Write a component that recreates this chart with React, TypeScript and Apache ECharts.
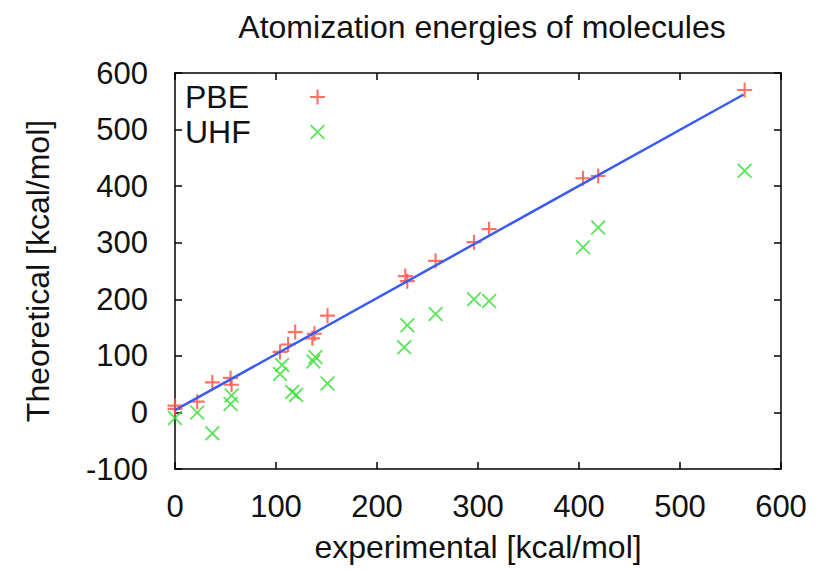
import React, { useEffect, useRef } from "react";
import * as echarts from "echarts";

const TITLE = "Atomization energies of molecules";
const X_NAME = "experimental [kcal/mol]";
const Y_NAME = "Theoretical [kcal/mol]";

// PBE (red +): [experimental, theoretical]
const pbeData: number[][] = [
  [0, 12], [0, 6], [22, 19], [37, 53], [55, 61], [56, 49],
  [104, 107], [112, 120], [119, 142], [136, 131], [138, 139], [151, 171],
  [228, 241], [230, 232], [258, 268], [296, 301], [311, 324],
  [404, 414], [419, 418], [564, 570],
];

// UHF (green x)
const uhfData: number[][] = [
  [0, -10], [22, 0], [37, -37], [55, 15], [56, 30],
  [104, 68], [106, 84], [116, 36], [120, 31], [137, 90], [139, 98], [151, 51],
  [227, 115], [230, 154], [258, 174], [296, 200], [311, 197],
  [404, 292], [419, 327], [564, 427],
];

// fitted line
const fitLine: number[][] = [[0, 4], [563, 562]];

const X_MIN = 0, X_MAX = 600, X_STEP = 100;
const Y_MIN = -100, Y_MAX = 600, Y_STEP = 100;

const PLUS = "path://M6,0H8V6H14V8H8V14H6V8H0V6H6Z";
const CROSS =
  "path://M0,1.2L1.2,0L7,5.8L12.8,0L14,1.2L8.2,7L14,12.8L12.8,14L7,8.2L1.2,14L0,12.8L5.8,7Z";

const RED = "#ff4f40";
const GREEN = "#33dd33";
const BLUE = "#3a5cf0";
const FONT = "Liberation Sans, Arial, Helvetica, sans-serif";

export default function App() {
  const ref = useRef<HTMLDivElement>(null);
  useEffect(() => {
    if (!ref.current) return;
    const chart = echarts.init(ref.current, undefined, { renderer: "svg" });
    const axisLine = { show: true, onZero: false, lineStyle: { color: "#000", width: 1.5 } };
    const tick = { show: true, inside: true, length: 7, lineStyle: { color: "#000", width: 1.5 } };
    chart.setOption({
      animation: false,
      backgroundColor: "#fff",
      textStyle: { fontFamily: FONT },
      title: {
        text: TITLE,
        left: 477,
        top: 6,
        textAlign: "center",
        textStyle: { fontSize: 32, fontWeight: "normal", color: "#111", fontFamily: FONT },
      },
      legend: {
        orient: "vertical",
        left: 185,
        top: 81,
        padding: 0,
        align: "right",
        itemWidth: 15,
        itemHeight: 15,
        itemGap: 3,
        selectedMode: false,
        formatter: "{a|{name}}",
        textStyle: {
          fontSize: 32,
          color: "#111",
          fontFamily: FONT,
          rich: {
            a: { width: 120, align: "left", fontSize: 32, lineHeight: 30, color: "#111", fontFamily: FONT },
          },
        },
        data: [
          { name: "PBE", icon: PLUS },
          { name: "UHF", icon: CROSS },
        ],
      },
      grid: { left: 175, right: 45, top: 73, bottom: 105, containLabel: false },
      xAxis: [
        {
          type: "value",
          min: X_MIN,
          max: X_MAX,
          interval: X_STEP,
          name: X_NAME,
          nameLocation: "middle",
          nameGap: 62,
          nameTextStyle: { fontSize: 32, color: "#111", fontFamily: FONT },
          axisLine,
          axisTick: tick,
          splitLine: { show: false },
          axisLabel: { fontSize: 31, color: "#111", margin: 22, fontFamily: FONT },
        },
        {
          type: "value",
          position: "top",
          min: X_MIN,
          max: X_MAX,
          interval: X_STEP,
          axisLine,
          axisTick: tick,
          splitLine: { show: false },
          axisLabel: { show: false },
        },
      ],
      yAxis: [
        {
          type: "value",
          min: Y_MIN,
          max: Y_MAX,
          interval: Y_STEP,
          name: Y_NAME,
          nameLocation: "middle",
          nameRotate: 90,
          nameGap: 121,
          nameTextStyle: { fontSize: 32, color: "#111", fontFamily: FONT },
          axisLine,
          axisTick: tick,
          splitLine: { show: false },
          axisLabel: { fontSize: 31, color: "#111", margin: 27, fontFamily: FONT },
        },
        {
          type: "value",
          position: "right",
          min: Y_MIN,
          max: Y_MAX,
          interval: Y_STEP,
          axisLine,
          axisTick: tick,
          splitLine: { show: false },
          axisLabel: { show: false },
        },
      ],
      series: [
        {
          name: "fit",
          type: "line",
          data: fitLine,
          showSymbol: false,
          lineStyle: { color: BLUE, width: 2.5 },
          z: 3,
          silent: true,
        },
        {
          name: "PBE",
          type: "scatter",
          data: pbeData,
          symbol: PLUS,
          symbolSize: 15,
          itemStyle: { color: RED },
          z: 2,
        },
        {
          name: "UHF",
          type: "scatter",
          data: uhfData,
          symbol: CROSS,
          symbolSize: 15,
          itemStyle: { color: GREEN },
          z: 2,
        },
      ],
    });
    return () => chart.dispose();
  }, []);
  return (
    <div
      ref={ref}
      style={{ position: "fixed", left: 0, top: 0, width: 826, height: 574, background: "#fff" }}
    />
  );
}
